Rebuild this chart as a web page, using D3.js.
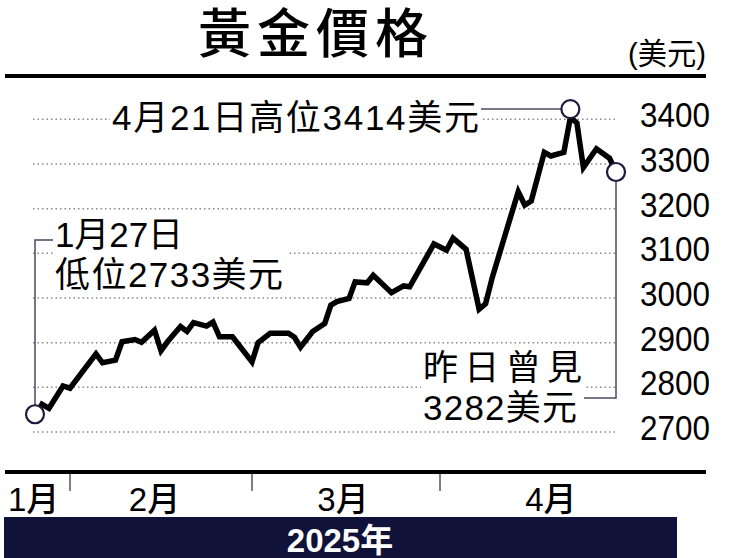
<!DOCTYPE html>
<html><head><meta charset="utf-8">
<script src="https://cdn.jsdelivr.net/npm/d3@7"></script>
<style>body{margin:0;background:#fff} svg{display:block}</style>
</head><body><svg id="c" width="741" height="558"></svg>
<script>
// ---- data ----
const dates = ["2025-01-27","2025-01-28","2025-01-29","2025-01-31","2025-02-01","2025-02-05","2025-02-06","2025-02-08","2025-02-09","2025-02-11","2025-02-12","2025-02-14","2025-02-15","2025-02-16","2025-02-18","2025-02-19","2025-02-20","2025-02-22","2025-02-23","2025-02-24","2025-02-26","2025-03-01","2025-03-02","2025-03-04","2025-03-07","2025-03-08","2025-03-09","2025-03-11","2025-03-13","2025-03-14","2025-03-15","2025-03-17","2025-03-18","2025-03-20","2025-03-21","2025-03-24","2025-03-26","2025-03-27","2025-03-31","2025-04-02","2025-04-03","2025-04-05","2025-04-07","2025-04-08","2025-04-09","2025-04-13","2025-04-14","2025-04-15","2025-04-17","2025-04-18","2025-04-20","2025-04-21","2025-04-22","2025-04-23","2025-04-25","2025-04-27","2025-04-28"];
const prices = [2733,2762,2753,2803,2798,2875,2855,2861,2902,2907,2901,2928,2882,2902,2936,2925,2945,2937,2946,2913,2913,2857,2900,2921,2921,2912,2890,2925,2943,2984,2992,2999,3036,3034,3051,3012,3027,3025,3121,3107,3134,3109,2975,2987,3045,3238,3208,3217,3326,3318,3326,3404,3392,3292,3334,3313,3282];
const yTicks = [2700,2800,2900,3000,3100,3200,3300,3400];
const monthBoundaries = ["2025-02-01","2025-03-01","2025-04-01"];
const monthLabels = ["1月","2月","3月","4月"];
const monthLabelDates = ["2025-01-27","2025-02-14","2025-03-16","2025-04-18"];
const title = "黃金價格";
const unit = "(美元)";
const yearLabel = "2025年";
const highNote = "4月21日高位3414美元";
const lowNote = ["1月27日","低位2733美元"];
const lastNote = ["昨日曾見","3282美元"];
const highDate = "2025-04-21", highValue = 3414;
const lowDate = "2025-01-27", lowValue = 2733;
const lastDate = "2025-04-28", lastValue = 3282;

// ---- chart ----
const parse = d3.timeParse("%Y-%m-%d");
const svg = d3.select("#c");
const CJK = "'Liberation Sans','Noto Sans CJK TC',sans-serif";
const data = dates.map((d,i)=>({date:parse(d), v:prices[i]}));

const x = d3.scaleTime()
  .domain(["2025-01-27","2025-02-01","2025-03-01","2025-04-01","2025-04-28"].map(parse))
  .range([35,70,252,440,616]);
const y = d3.scaleLinear().domain([2700,3400]).range([432,119.3]);

svg.append("rect").attr("width",741).attr("height",558).attr("fill","#fff");

// title
svg.append("text").text(title).attr("x",316).attr("y",53).attr("text-anchor","middle")
  .attr("font-family","'Noto Sans CJK TC',sans-serif").attr("font-weight",500)
  .attr("font-size",53).attr("letter-spacing",6).attr("fill","#000");
svg.append("text").text(unit).attr("x",706).attr("y",64).attr("text-anchor","end")
  .attr("font-family",CJK).attr("font-size",30).attr("textLength",78).attr("lengthAdjust","spacingAndGlyphs").attr("fill","#000");

// top rule
svg.append("rect").attr("x",5).attr("y",74).attr("width",701).attr("height",4).attr("fill","#000");

// gridlines
svg.append("g").selectAll("line").data(yTicks).join("line")
  .attr("x1",33).attr("x2",618).attr("y1",d=>y(d)).attr("y2",d=>y(d))
  .attr("stroke","#8a8a8a").attr("stroke-width",1.5).attr("stroke-dasharray","1.5,3");

// y labels
svg.append("g").selectAll("text").data(yTicks).join("text")
  .text(d=>d).attr("x",640).attr("y",d=>y(d)+8)
  .attr("font-family","'Liberation Sans',sans-serif").attr("font-size",35)
  .attr("textLength",70).attr("lengthAdjust","spacingAndGlyphs").attr("fill","#000");

// annotation backgrounds
svg.append("rect").attr("x",110).attr("y",98).attr("width",372).attr("height",36).attr("fill","#fff");
svg.append("rect").attr("x",53).attr("y",214).attr("width",235).attr("height",78).attr("fill","#fff");
svg.append("rect").attr("x",421).attr("y",345).attr("width",163).attr("height",80).attr("fill","#fff");

// price line
svg.append("path").datum(data)
  .attr("d", d3.line().x(d=>x(d.date)).y(d=>y(d.v)))
  .attr("fill","none").attr("stroke","#000").attr("stroke-width",5.5)
  .attr("stroke-linejoin","miter");

// connectors
const conn = "#4a4a60";
const lx = x(parse(lowDate)), ly = y(lowValue)-3;
svg.append("path").attr("d",`M${lx},${ly-9} V240 H53`).attr("fill","none").attr("stroke",conn).attr("stroke-width",1.5);
const hx = x(parse(highDate)), hy = y(highValue)-4;
svg.append("path").attr("d",`M481,${hy} H${hx-9}`).attr("fill","none").attr("stroke",conn).attr("stroke-width",1.5);
const ex = x(parse(lastDate)), ey = y(lastValue);
svg.append("path").attr("d",`M${ex},${ey+9} V398 H584`).attr("fill","none").attr("stroke",conn).attr("stroke-width",1.5);

// circles
svg.append("g").selectAll("circle").data([[lx,ly],[hx,hy],[ex,ey]]).join("circle")
  .attr("cx",d=>d[0]).attr("cy",d=>d[1]).attr("r",9)
  .attr("fill","#fff").attr("stroke","#1c1c3c").attr("stroke-width",2.2);

// annotation texts
svg.append("text").text(highNote).attr("x",112).attr("y",130)
  .attr("font-family",CJK).attr("font-size",35).attr("textLength",367).attr("lengthAdjust","spacing").attr("fill","#000");
const lowLens = [128,228];
svg.append("g").selectAll("text").data(lowNote).join("text").text(d=>d)
  .attr("x",55).attr("y",(d,i)=>247+i*40)
  .attr("font-family",CJK).attr("font-size",35)
  .attr("textLength",(d,i)=>lowLens[i]).attr("lengthAdjust","spacing").attr("fill","#000");
const lastLens = [159,154];
svg.append("g").selectAll("text").data(lastNote).join("text").text(d=>d)
  .attr("x",423).attr("y",(d,i)=>380+i*40)
  .attr("font-family",CJK).attr("font-size",35)
  .attr("textLength",(d,i)=>lastLens[i]).attr("lengthAdjust","spacing").attr("fill","#000");

// bottom axis
svg.append("rect").attr("x",5).attr("y",470).attr("width",701).attr("height",4).attr("fill","#000");
svg.append("g").selectAll("line").data(monthBoundaries).join("line")
  .attr("x1",d=>x(parse(d))).attr("x2",d=>x(parse(d))).attr("y1",472).attr("y2",491)
  .attr("stroke","#000").attr("stroke-width",1);
svg.append("g").selectAll("text").data(monthLabels).join("text").text(d=>d)
  .attr("x",(d,i)=> i===0 ? 8 : x(parse(monthLabelDates[i])))
  .attr("text-anchor",(d,i)=> i===0 ? "start":"middle")
  .attr("y",511).attr("font-family",CJK).attr("font-size",33).attr("font-weight",500).attr("fill","#000");

// year band
svg.append("rect").attr("x",4).attr("y",517).attr("width",673).attr("height",41).attr("fill","#10123a");
svg.append("text").text(yearLabel).attr("x",340).attr("y",552).attr("text-anchor","middle")
  .attr("font-family",CJK).attr("font-weight",700).attr("font-size",33).attr("fill","#fff");
</script></body></html>
